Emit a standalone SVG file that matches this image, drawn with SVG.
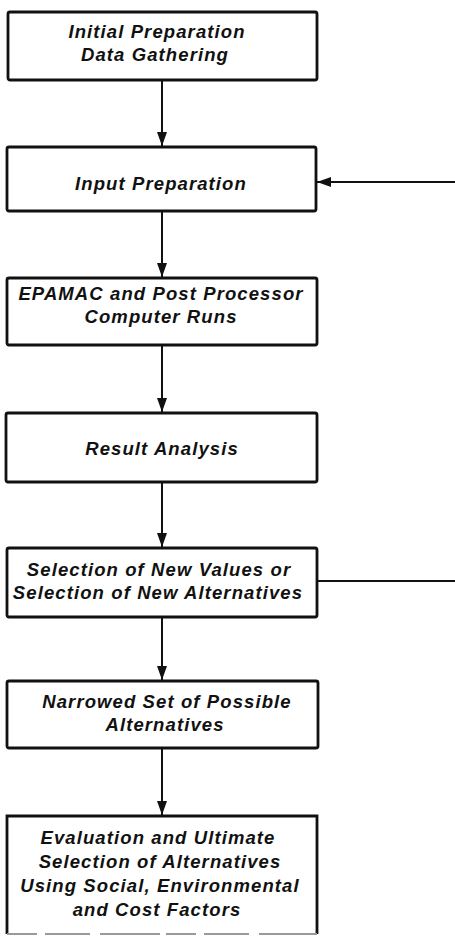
<svg xmlns="http://www.w3.org/2000/svg" width="455" height="936" viewBox="0 0 455 936">
  <style>
    .box { fill: #ffffff; stroke: #111111; stroke-width: 2.8; }
    .lbl { font-family: "Liberation Sans", Arial, Helvetica, sans-serif; font-size: 18.5px; font-weight: 700; font-style: italic; letter-spacing: 1.1px; fill: #111111; text-anchor: middle; }
    .wire { fill: none; stroke: #111111; stroke-width: 2; }
  </style>
  <defs>
    <marker id="arrow" viewBox="0 0 14 10" refX="14" refY="5" markerWidth="14" markerHeight="10" markerUnits="userSpaceOnUse" orient="auto">
      <path d="M0,0 L14,5 L0,10 Z" fill="#111111"/>
    </marker>
  </defs>
  <rect width="455" height="936" fill="#ffffff"/>

  <!-- connectors -->
  <g id="connectors">
    <line class="wire" x1="162" y1="80" x2="162" y2="146" marker-end="url(#arrow)"/>
    <line class="wire" x1="162" y1="211" x2="162" y2="277" marker-end="url(#arrow)"/>
    <line class="wire" x1="162" y1="345" x2="162" y2="412" marker-end="url(#arrow)"/>
    <line class="wire" x1="162" y1="482" x2="162" y2="547" marker-end="url(#arrow)"/>
    <line class="wire" x1="162" y1="617" x2="162" y2="680" marker-end="url(#arrow)"/>
    <line class="wire" x1="162" y1="748" x2="162" y2="815" marker-end="url(#arrow)"/>
    <!-- feedback loop: selection back to input preparation -->
    <path class="wire" d="M317,581 H458 V182 H317" marker-end="url(#arrow)"/>
  </g>

  <g id="initial">
    <rect class="box" x="8" y="12" width="309" height="68" rx="2"/>
    <text class="lbl" x="157" y="38">Initial Preparation</text>
    <text class="lbl" x="155" y="61">Data Gathering</text>
  </g>

  <g id="input">
    <rect class="box" x="7" y="147" width="309" height="64" rx="2"/>
    <text class="lbl" x="161" y="190">Input Preparation</text>
  </g>

  <g id="runs">
    <rect class="box" x="7" y="278" width="310" height="67" rx="2"/>
    <text class="lbl" x="161" y="300">EPAMAC and Post Processor</text>
    <text class="lbl" x="161" y="323">Computer Runs</text>
  </g>

  <g id="analysis">
    <rect class="box" x="6" y="413" width="311" height="69" rx="2"/>
    <text class="lbl" x="162" y="455">Result Analysis</text>
  </g>

  <g id="selection">
    <rect class="box" x="7" y="548" width="310" height="69" rx="2"/>
    <text class="lbl" x="159" y="576">Selection of New Values or</text>
    <text class="lbl" x="158" y="599">Selection of New Alternatives</text>
  </g>

  <g id="narrowed">
    <rect class="box" x="7" y="681" width="311" height="67" rx="2"/>
    <text class="lbl" x="167" y="708">Narrowed Set of Possible</text>
    <text class="lbl" x="165" y="731">Alternatives</text>
  </g>

  <g id="evaluation">
    <path class="box" d="M7,934 V816 H317 V934"/>
    <line x1="7" y1="934" x2="317" y2="934" stroke="#9a9a9a" stroke-width="2" stroke-dasharray="30 8 45 10 60 6"/>
    <text class="lbl" x="158" y="844">Evaluation and Ultimate</text>
    <text class="lbl" x="160" y="868">Selection of Alternatives</text>
    <text class="lbl" x="160" y="892">Using Social, Environmental</text>
    <text class="lbl" x="157" y="916">and Cost Factors</text>
  </g>
</svg>
